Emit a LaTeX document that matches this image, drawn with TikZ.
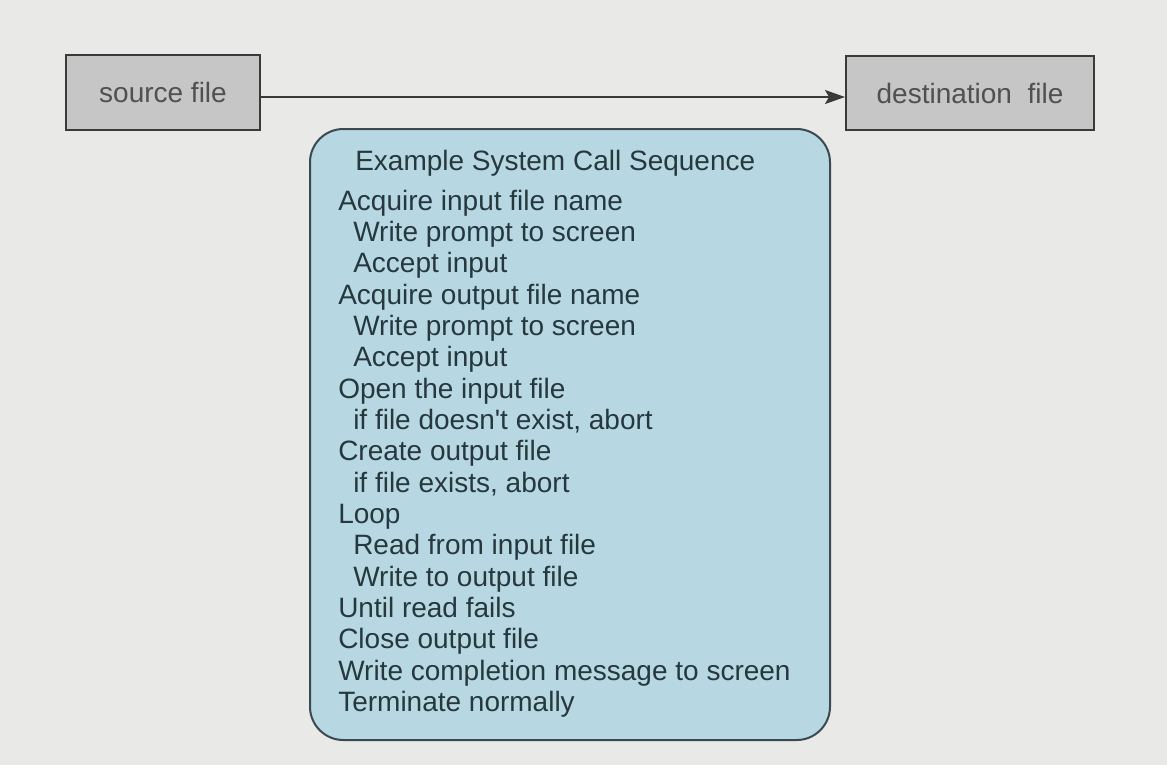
\documentclass[tikz,border=0pt]{standalone}
\usepackage{fontspec}
\newfontfamily\lsans{Liberation Sans}
\usetikzlibrary{arrows.meta}
\definecolor{bg}{HTML}{E9EAE7}
\definecolor{grayfill}{HTML}{C6C6C6}
\definecolor{boxline}{HTML}{3A3A3A}
\definecolor{graytext}{HTML}{505050}
\definecolor{bluefill}{HTML}{B7D8E2}
\definecolor{blueline}{HTML}{3A4A50}
\definecolor{bluetext}{HTML}{26383E}
\begin{document}
\begin{tikzpicture}[x=0.75pt,y=-0.75pt,
  txt/.style={font=\lsans\fontsize{21}{25}\selectfont},
  filebox/.style={txt, draw=boxline, line width=1.5pt, fill=grayfill, text=graytext, inner sep=0pt},
  seqbox/.style={draw=blueline, line width=1.5pt, fill=bluefill, rounded corners=25pt, inner sep=0pt},
  seqline/.style={txt, text=bluetext, anchor=base west, inner sep=0pt},
  link/.style={draw=boxline, line width=1.3pt, -{Stealth[length=15pt,width=10.5pt,inset=3pt]}}
]
\fill[bg] (0,0) rectangle (1167,765);
\useasboundingbox (0,0) rectangle (1167,765);

\node[filebox, minimum width=145.5pt, minimum height=56.25pt] (src) at (163,92.5) {source file};
\node[filebox, minimum width=186pt, minimum height=55.5pt] (dst) at (970,93) {destination\ \ file};

\coordinate (ay) at (0,97);
\draw[link] (src.east |- ay) -- (dst.west |- ay);

\node[seqbox, minimum width=390pt, minimum height=458.25pt] (seq) at (570,434.5) {};

\node[seqline] (title) at (355,170) {Example System Call Sequence};

\foreach \ind/\t [count=\i] in {
  0/{Acquire input file name},
  1/{Write prompt to screen},
  1/{Accept input},
  0/{Acquire output file name},
  1/{Write prompt to screen},
  1/{Accept input},
  0/{Open the input file},
  1/{if file doesn't exist, abort},
  0/{Create output file},
  1/{if file exists, abort},
  0/{Loop},
  1/{Read from input file},
  1/{Write to output file},
  0/{Until read fails},
  0/{Close output file},
  0/{Write completion message to screen},
  0/{Terminate normally}}
{
  \node[seqline] (l\i) at ({338+15*\ind},{210+31.35*(\i-1)}) {\t};
}
\end{tikzpicture}
\end{document}
